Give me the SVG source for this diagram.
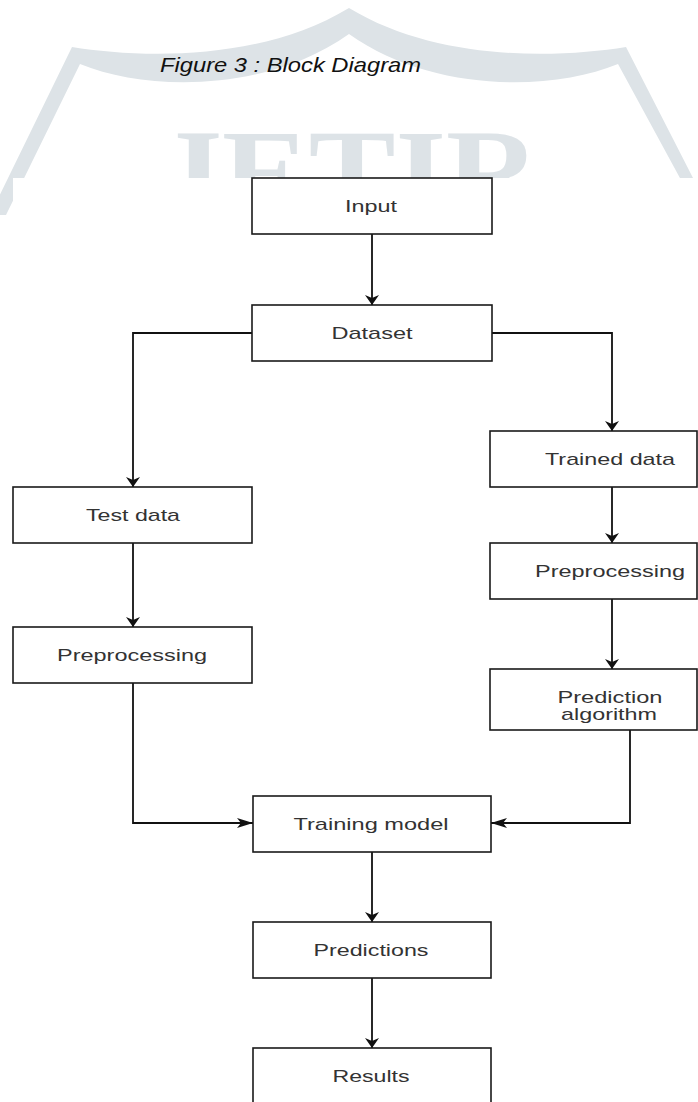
<svg xmlns="http://www.w3.org/2000/svg" width="698" height="1102" viewBox="0 0 698 1102">
  <style>
    .box { fill: #ffffff; stroke: #1a1a1a; stroke-width: 1.6; }
    .lbl { font-family: "Liberation Sans", Arial, sans-serif; font-size: 17px; fill: #333333; text-anchor: middle; }
    .conn { fill: none; stroke: #111111; stroke-width: 1.8; }
    .wm { fill: #dde3e7; }
  </style>
  <defs>
    <marker id="ah-down" markerUnits="userSpaceOnUse" viewBox="0 0 14 10" markerWidth="14" markerHeight="10" refX="7" refY="10" orient="0">
      <path d="M0,0 L7,3 L14,0 L7,10 Z" fill="#111111"/>
    </marker>
    <marker id="ah-right" markerUnits="userSpaceOnUse" viewBox="0 0 16 10" markerWidth="16" markerHeight="10" refX="16" refY="5" orient="0">
      <path d="M0,0 L16,5 L0,10 L4,5 Z" fill="#111111"/>
    </marker>
    <marker id="ah-left" markerUnits="userSpaceOnUse" viewBox="0 0 16 10" markerWidth="16" markerHeight="10" refX="0" refY="5" orient="0">
      <path d="M16,0 L0,5 L16,10 L12,5 Z" fill="#111111"/>
    </marker>
  </defs>

  <rect x="0" y="0" width="698" height="1102" fill="#ffffff"/>

  <g id="watermark">
    <path class="wm" d="M -10,215 L 72,47 C 140,58 260,62 349,8 C 438,62 558,58 626,47 L 712,215 L 700,215 L 618,64 C 550,92 430,92 349,34 C 268,92 148,92 80,64 L 6,215 Z"/>
    <svg x="0" y="0" width="698" height="178" viewBox="0 0 698 178" overflow="hidden">
      <text x="157" y="213" textLength="383" lengthAdjust="spacingAndGlyphs" style="font-family: 'Liberation Serif', 'Times New Roman', serif; font-weight: bold; font-size: 120px; fill: #dde3e7;">JETIR</text>
    </svg>
  </g>

  <rect x="13" y="178" width="685" height="924" fill="#ffffff"/>

  <text id="caption" x="160" y="72" textLength="261" lengthAdjust="spacingAndGlyphs" style="font-family: 'Liberation Sans', Arial, sans-serif; font-style: italic; font-size: 21px; fill: #111111;">Figure 3 : Block Diagram</text>

  <g id="connectors">
    <path class="conn" d="M372,234 L372,305" marker-end="url(#ah-down)"/>
    <path class="conn" d="M252,333 L133,333 L133,487" marker-end="url(#ah-down)"/>
    <path class="conn" d="M492,333 L612,333 L612,431" marker-end="url(#ah-down)"/>
    <path class="conn" d="M133,543 L133,627" marker-end="url(#ah-down)"/>
    <path class="conn" d="M612,487 L612,543" marker-end="url(#ah-down)"/>
    <path class="conn" d="M612,599 L612,669" marker-end="url(#ah-down)"/>
    <path class="conn" d="M133,683 L133,823 L253,823" marker-end="url(#ah-right)"/>
    <path class="conn" d="M630,730 L630,823 L491,823" marker-end="url(#ah-left)"/>
    <path class="conn" d="M372,852 L372,922" marker-end="url(#ah-down)"/>
    <path class="conn" d="M372,978 L372,1048" marker-end="url(#ah-down)"/>
  </g>

  <g id="node-input">
    <rect class="box" x="252" y="178" width="240" height="56"/>
    <text class="lbl" x="371" y="212" textLength="52" lengthAdjust="spacingAndGlyphs">Input</text>
  </g>
  <g id="node-dataset">
    <rect class="box" x="252" y="305" width="240" height="56"/>
    <text class="lbl" x="372" y="339" textLength="81" lengthAdjust="spacingAndGlyphs">Dataset</text>
  </g>
  <g id="node-test-data">
    <rect class="box" x="13" y="487" width="239" height="56"/>
    <text class="lbl" x="133" y="521" textLength="94" lengthAdjust="spacingAndGlyphs">Test data</text>
  </g>
  <g id="node-preprocessing-left">
    <rect class="box" x="13" y="627" width="239" height="56"/>
    <text class="lbl" x="132" y="661" textLength="150" lengthAdjust="spacingAndGlyphs">Preprocessing</text>
  </g>
  <g id="node-trained-data">
    <rect class="box" x="490" y="431" width="207" height="56"/>
    <text class="lbl" x="610" y="465" textLength="130" lengthAdjust="spacingAndGlyphs">Trained data</text>
  </g>
  <g id="node-preprocessing-right">
    <rect class="box" x="490" y="543" width="207" height="56"/>
    <text class="lbl" x="610" y="577" textLength="150" lengthAdjust="spacingAndGlyphs">Preprocessing</text>
  </g>
  <g id="node-prediction-algorithm">
    <rect class="box" x="490" y="669" width="207" height="61"/>
    <text class="lbl" x="610" y="703" textLength="105" lengthAdjust="spacingAndGlyphs">Prediction</text>
    <text class="lbl" x="609" y="720" textLength="96" lengthAdjust="spacingAndGlyphs">algorithm</text>
  </g>
  <g id="node-training-model">
    <rect class="box" x="253" y="796" width="238" height="56"/>
    <text class="lbl" x="371" y="830" textLength="155" lengthAdjust="spacingAndGlyphs">Training model</text>
  </g>
  <g id="node-predictions">
    <rect class="box" x="253" y="922" width="238" height="56"/>
    <text class="lbl" x="371" y="956" textLength="115" lengthAdjust="spacingAndGlyphs">Predictions</text>
  </g>
  <g id="node-results">
    <rect class="box" x="253" y="1048" width="238" height="60"/>
    <text class="lbl" x="371" y="1082" textLength="77" lengthAdjust="spacingAndGlyphs">Results</text>
  </g>
</svg>
